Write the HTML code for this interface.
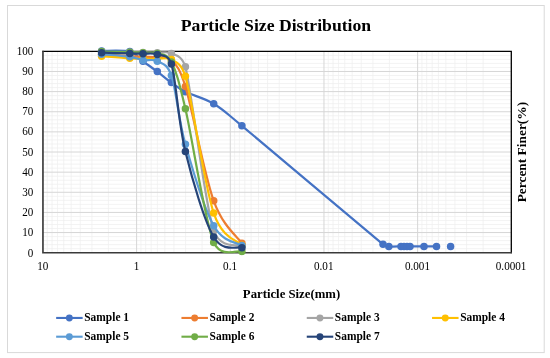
<!DOCTYPE html>
<html><head><meta charset="utf-8"><title>Particle Size Distribution</title>
<style>
html,body{margin:0;padding:0;background:#fff;}
body{width:550px;height:358px;overflow:hidden;}
svg{display:block;will-change:transform;opacity:0.999;}
svg text{font-family:"Liberation Serif",serif;fill:#000;}
</style></head><body>
<svg width="550" height="358" viewBox="0 0 550 358">
<rect x="0" y="0" width="550" height="358" fill="#ffffff"/>
<rect x="7.5" y="5.5" width="536.7" height="347.1" fill="#fff" stroke="#d9d9d9" stroke-width="1"/>
<g shape-rendering="auto">
<line x1="42.95" x2="511.3" y1="248.67" y2="248.67" stroke="#efefef" stroke-width="0.75"/>
<line x1="42.95" x2="511.3" y1="244.65" y2="244.65" stroke="#efefef" stroke-width="0.75"/>
<line x1="42.95" x2="511.3" y1="240.62" y2="240.62" stroke="#efefef" stroke-width="0.75"/>
<line x1="42.95" x2="511.3" y1="236.59" y2="236.59" stroke="#efefef" stroke-width="0.75"/>
<line x1="42.95" x2="511.3" y1="228.54" y2="228.54" stroke="#efefef" stroke-width="0.75"/>
<line x1="42.95" x2="511.3" y1="224.51" y2="224.51" stroke="#efefef" stroke-width="0.75"/>
<line x1="42.95" x2="511.3" y1="220.48" y2="220.48" stroke="#efefef" stroke-width="0.75"/>
<line x1="42.95" x2="511.3" y1="216.46" y2="216.46" stroke="#efefef" stroke-width="0.75"/>
<line x1="42.95" x2="511.3" y1="208.40" y2="208.40" stroke="#efefef" stroke-width="0.75"/>
<line x1="42.95" x2="511.3" y1="204.38" y2="204.38" stroke="#efefef" stroke-width="0.75"/>
<line x1="42.95" x2="511.3" y1="200.35" y2="200.35" stroke="#efefef" stroke-width="0.75"/>
<line x1="42.95" x2="511.3" y1="196.32" y2="196.32" stroke="#efefef" stroke-width="0.75"/>
<line x1="42.95" x2="511.3" y1="188.27" y2="188.27" stroke="#efefef" stroke-width="0.75"/>
<line x1="42.95" x2="511.3" y1="184.24" y2="184.24" stroke="#efefef" stroke-width="0.75"/>
<line x1="42.95" x2="511.3" y1="180.21" y2="180.21" stroke="#efefef" stroke-width="0.75"/>
<line x1="42.95" x2="511.3" y1="176.19" y2="176.19" stroke="#efefef" stroke-width="0.75"/>
<line x1="42.95" x2="511.3" y1="168.13" y2="168.13" stroke="#efefef" stroke-width="0.75"/>
<line x1="42.95" x2="511.3" y1="164.11" y2="164.11" stroke="#efefef" stroke-width="0.75"/>
<line x1="42.95" x2="511.3" y1="160.08" y2="160.08" stroke="#efefef" stroke-width="0.75"/>
<line x1="42.95" x2="511.3" y1="156.05" y2="156.05" stroke="#efefef" stroke-width="0.75"/>
<line x1="42.95" x2="511.3" y1="148.00" y2="148.00" stroke="#efefef" stroke-width="0.75"/>
<line x1="42.95" x2="511.3" y1="143.97" y2="143.97" stroke="#efefef" stroke-width="0.75"/>
<line x1="42.95" x2="511.3" y1="139.94" y2="139.94" stroke="#efefef" stroke-width="0.75"/>
<line x1="42.95" x2="511.3" y1="135.92" y2="135.92" stroke="#efefef" stroke-width="0.75"/>
<line x1="42.95" x2="511.3" y1="127.86" y2="127.86" stroke="#efefef" stroke-width="0.75"/>
<line x1="42.95" x2="511.3" y1="123.84" y2="123.84" stroke="#efefef" stroke-width="0.75"/>
<line x1="42.95" x2="511.3" y1="119.81" y2="119.81" stroke="#efefef" stroke-width="0.75"/>
<line x1="42.95" x2="511.3" y1="115.78" y2="115.78" stroke="#efefef" stroke-width="0.75"/>
<line x1="42.95" x2="511.3" y1="107.73" y2="107.73" stroke="#efefef" stroke-width="0.75"/>
<line x1="42.95" x2="511.3" y1="103.70" y2="103.70" stroke="#efefef" stroke-width="0.75"/>
<line x1="42.95" x2="511.3" y1="99.67" y2="99.67" stroke="#efefef" stroke-width="0.75"/>
<line x1="42.95" x2="511.3" y1="95.65" y2="95.65" stroke="#efefef" stroke-width="0.75"/>
<line x1="42.95" x2="511.3" y1="87.59" y2="87.59" stroke="#efefef" stroke-width="0.75"/>
<line x1="42.95" x2="511.3" y1="83.57" y2="83.57" stroke="#efefef" stroke-width="0.75"/>
<line x1="42.95" x2="511.3" y1="79.54" y2="79.54" stroke="#efefef" stroke-width="0.75"/>
<line x1="42.95" x2="511.3" y1="75.51" y2="75.51" stroke="#efefef" stroke-width="0.75"/>
<line x1="42.95" x2="511.3" y1="67.46" y2="67.46" stroke="#efefef" stroke-width="0.75"/>
<line x1="42.95" x2="511.3" y1="63.43" y2="63.43" stroke="#efefef" stroke-width="0.75"/>
<line x1="42.95" x2="511.3" y1="59.40" y2="59.40" stroke="#efefef" stroke-width="0.75"/>
<line x1="42.95" x2="511.3" y1="55.38" y2="55.38" stroke="#efefef" stroke-width="0.75"/>
<line y1="51.35" y2="252.7" x1="108.42" x2="108.42" stroke="#efefef" stroke-width="0.75"/>
<line y1="51.35" y2="252.7" x1="91.93" x2="91.93" stroke="#efefef" stroke-width="0.75"/>
<line y1="51.35" y2="252.7" x1="80.23" x2="80.23" stroke="#efefef" stroke-width="0.75"/>
<line y1="51.35" y2="252.7" x1="71.15" x2="71.15" stroke="#efefef" stroke-width="0.75"/>
<line y1="51.35" y2="252.7" x1="63.73" x2="63.73" stroke="#efefef" stroke-width="0.75"/>
<line y1="51.35" y2="252.7" x1="57.46" x2="57.46" stroke="#efefef" stroke-width="0.75"/>
<line y1="51.35" y2="252.7" x1="52.03" x2="52.03" stroke="#efefef" stroke-width="0.75"/>
<line y1="51.35" y2="252.7" x1="47.24" x2="47.24" stroke="#efefef" stroke-width="0.75"/>
<line y1="51.35" y2="252.7" x1="202.09" x2="202.09" stroke="#efefef" stroke-width="0.75"/>
<line y1="51.35" y2="252.7" x1="185.60" x2="185.60" stroke="#efefef" stroke-width="0.75"/>
<line y1="51.35" y2="252.7" x1="173.90" x2="173.90" stroke="#efefef" stroke-width="0.75"/>
<line y1="51.35" y2="252.7" x1="164.82" x2="164.82" stroke="#efefef" stroke-width="0.75"/>
<line y1="51.35" y2="252.7" x1="157.40" x2="157.40" stroke="#efefef" stroke-width="0.75"/>
<line y1="51.35" y2="252.7" x1="151.13" x2="151.13" stroke="#efefef" stroke-width="0.75"/>
<line y1="51.35" y2="252.7" x1="145.70" x2="145.70" stroke="#efefef" stroke-width="0.75"/>
<line y1="51.35" y2="252.7" x1="140.91" x2="140.91" stroke="#efefef" stroke-width="0.75"/>
<line y1="51.35" y2="252.7" x1="295.76" x2="295.76" stroke="#efefef" stroke-width="0.75"/>
<line y1="51.35" y2="252.7" x1="279.27" x2="279.27" stroke="#efefef" stroke-width="0.75"/>
<line y1="51.35" y2="252.7" x1="267.57" x2="267.57" stroke="#efefef" stroke-width="0.75"/>
<line y1="51.35" y2="252.7" x1="258.49" x2="258.49" stroke="#efefef" stroke-width="0.75"/>
<line y1="51.35" y2="252.7" x1="251.07" x2="251.07" stroke="#efefef" stroke-width="0.75"/>
<line y1="51.35" y2="252.7" x1="244.80" x2="244.80" stroke="#efefef" stroke-width="0.75"/>
<line y1="51.35" y2="252.7" x1="239.37" x2="239.37" stroke="#efefef" stroke-width="0.75"/>
<line y1="51.35" y2="252.7" x1="234.58" x2="234.58" stroke="#efefef" stroke-width="0.75"/>
<line y1="51.35" y2="252.7" x1="389.43" x2="389.43" stroke="#efefef" stroke-width="0.75"/>
<line y1="51.35" y2="252.7" x1="372.94" x2="372.94" stroke="#efefef" stroke-width="0.75"/>
<line y1="51.35" y2="252.7" x1="361.24" x2="361.24" stroke="#efefef" stroke-width="0.75"/>
<line y1="51.35" y2="252.7" x1="352.16" x2="352.16" stroke="#efefef" stroke-width="0.75"/>
<line y1="51.35" y2="252.7" x1="344.74" x2="344.74" stroke="#efefef" stroke-width="0.75"/>
<line y1="51.35" y2="252.7" x1="338.47" x2="338.47" stroke="#efefef" stroke-width="0.75"/>
<line y1="51.35" y2="252.7" x1="333.04" x2="333.04" stroke="#efefef" stroke-width="0.75"/>
<line y1="51.35" y2="252.7" x1="328.25" x2="328.25" stroke="#efefef" stroke-width="0.75"/>
<line y1="51.35" y2="252.7" x1="483.10" x2="483.10" stroke="#efefef" stroke-width="0.75"/>
<line y1="51.35" y2="252.7" x1="466.61" x2="466.61" stroke="#efefef" stroke-width="0.75"/>
<line y1="51.35" y2="252.7" x1="454.91" x2="454.91" stroke="#efefef" stroke-width="0.75"/>
<line y1="51.35" y2="252.7" x1="445.83" x2="445.83" stroke="#efefef" stroke-width="0.75"/>
<line y1="51.35" y2="252.7" x1="438.41" x2="438.41" stroke="#efefef" stroke-width="0.75"/>
<line y1="51.35" y2="252.7" x1="432.14" x2="432.14" stroke="#efefef" stroke-width="0.75"/>
<line y1="51.35" y2="252.7" x1="426.71" x2="426.71" stroke="#efefef" stroke-width="0.75"/>
<line y1="51.35" y2="252.7" x1="421.92" x2="421.92" stroke="#efefef" stroke-width="0.75"/>
<line x1="42.95" x2="511.3" y1="232.56" y2="232.56" stroke="#d6d6d6" stroke-width="1"/>
<line x1="42.95" x2="511.3" y1="212.43" y2="212.43" stroke="#d6d6d6" stroke-width="1"/>
<line x1="42.95" x2="511.3" y1="192.29" y2="192.29" stroke="#d6d6d6" stroke-width="1"/>
<line x1="42.95" x2="511.3" y1="172.16" y2="172.16" stroke="#d6d6d6" stroke-width="1"/>
<line x1="42.95" x2="511.3" y1="152.02" y2="152.02" stroke="#d6d6d6" stroke-width="1"/>
<line x1="42.95" x2="511.3" y1="131.89" y2="131.89" stroke="#d6d6d6" stroke-width="1"/>
<line x1="42.95" x2="511.3" y1="111.75" y2="111.75" stroke="#d6d6d6" stroke-width="1"/>
<line x1="42.95" x2="511.3" y1="91.62" y2="91.62" stroke="#d6d6d6" stroke-width="1"/>
<line x1="42.95" x2="511.3" y1="71.48" y2="71.48" stroke="#d6d6d6" stroke-width="1"/>
<line y1="51.35" y2="252.7" x1="136.62" x2="136.62" stroke="#d6d6d6" stroke-width="1"/>
<line y1="51.35" y2="252.7" x1="230.29" x2="230.29" stroke="#d6d6d6" stroke-width="1"/>
<line y1="51.35" y2="252.7" x1="323.96" x2="323.96" stroke="#d6d6d6" stroke-width="1"/>
<line y1="51.35" y2="252.7" x1="417.63" x2="417.63" stroke="#d6d6d6" stroke-width="1"/>
</g>
<path d="M42.35,51.35H511.3V253.29999999999998" fill="none" stroke="#000" stroke-width="1.3"/>
<path d="M42.95,50.75V252.75H511.90000000000003" fill="none" stroke="#3a3a3a" stroke-width="1.65"/>
<g>
<path d="M101.60,50.90C106.30,51.02 122.90,49.87 129.80,51.60C136.70,53.33 138.42,57.97 143.00,61.30C147.58,64.63 152.57,68.05 157.30,71.60C162.03,75.15 166.72,79.23 171.40,82.60C176.08,85.97 178.35,88.28 185.40,91.80C192.45,95.32 204.28,98.03 213.70,103.70C223.12,109.37 223.48,110.60 241.90,125.80C270.12,149.23 358.52,224.20 383.00,244.30C386.33,246.63 385.80,246.05 388.80,246.40C391.80,246.75 398.47,246.40 401.00,246.40C403.00,246.40 403.00,246.40 404.00,246.40C405.00,246.40 406.00,246.40 407.00,246.40C408.00,246.40 408.00,246.40 410.00,246.40C412.83,246.40 419.58,246.40 424.00,246.40C428.42,246.40 434.42,246.40 436.50,246.40" fill="none" stroke="#4472C4" stroke-width="2.2" stroke-linecap="round" stroke-linejoin="round"/>
<circle cx="101.60" cy="50.90" r="3.75" fill="#4472C4"/>
<circle cx="129.80" cy="51.60" r="3.75" fill="#4472C4"/>
<circle cx="143.00" cy="61.30" r="3.75" fill="#4472C4"/>
<circle cx="157.30" cy="71.60" r="3.75" fill="#4472C4"/>
<circle cx="171.40" cy="82.60" r="3.75" fill="#4472C4"/>
<circle cx="185.40" cy="91.80" r="3.75" fill="#4472C4"/>
<circle cx="213.70" cy="103.70" r="3.75" fill="#4472C4"/>
<circle cx="241.90" cy="125.80" r="3.75" fill="#4472C4"/>
<circle cx="383.00" cy="244.30" r="3.75" fill="#4472C4"/>
<circle cx="388.80" cy="246.40" r="3.75" fill="#4472C4"/>
<circle cx="401.00" cy="246.40" r="3.75" fill="#4472C4"/>
<circle cx="404.00" cy="246.40" r="3.75" fill="#4472C4"/>
<circle cx="407.00" cy="246.40" r="3.75" fill="#4472C4"/>
<circle cx="410.00" cy="246.40" r="3.75" fill="#4472C4"/>
<circle cx="424.00" cy="246.40" r="3.75" fill="#4472C4"/>
<circle cx="436.50" cy="246.40" r="3.75" fill="#4472C4"/>
<circle cx="450.60" cy="246.40" r="3.75" fill="#4472C4"/>
<path d="M101.60,54.50C106.30,54.78 122.90,55.82 129.80,56.20C136.70,56.58 138.42,56.58 143.00,56.80C147.58,57.02 152.57,56.97 157.30,57.50C162.03,58.03 166.72,55.17 171.40,60.00C176.08,64.83 179.47,67.54 185.40,86.50C192.45,109.97 204.28,174.68 213.70,200.80C223.12,226.92 237.20,236.13 241.90,243.20" fill="none" stroke="#ED7D31" stroke-width="2.2" stroke-linecap="round" stroke-linejoin="round"/>
<circle cx="101.60" cy="54.50" r="3.75" fill="#ED7D31"/>
<circle cx="129.80" cy="56.20" r="3.75" fill="#ED7D31"/>
<circle cx="143.00" cy="56.80" r="3.75" fill="#ED7D31"/>
<circle cx="157.30" cy="57.50" r="3.75" fill="#ED7D31"/>
<circle cx="171.40" cy="60.00" r="3.75" fill="#ED7D31"/>
<circle cx="185.40" cy="86.50" r="3.75" fill="#ED7D31"/>
<circle cx="213.70" cy="200.80" r="3.75" fill="#ED7D31"/>
<circle cx="241.90" cy="243.20" r="3.75" fill="#ED7D31"/>
<path d="M101.60,52.00C106.30,52.03 122.90,52.13 129.80,52.20C136.70,52.27 138.42,52.32 143.00,52.40C147.58,52.48 152.57,52.53 157.30,52.70C162.03,52.87 166.72,51.05 171.40,53.40C176.08,55.75 181.42,55.02 185.40,66.80C192.45,96.42 204.28,201.20 213.70,231.10C221.11,249.38 237.20,243.68 241.90,246.20" fill="none" stroke="#A5A5A5" stroke-width="2.2" stroke-linecap="round" stroke-linejoin="round"/>
<circle cx="101.60" cy="52.00" r="3.75" fill="#A5A5A5"/>
<circle cx="129.80" cy="52.20" r="3.75" fill="#A5A5A5"/>
<circle cx="143.00" cy="52.40" r="3.75" fill="#A5A5A5"/>
<circle cx="157.30" cy="52.70" r="3.75" fill="#A5A5A5"/>
<circle cx="171.40" cy="53.40" r="3.75" fill="#A5A5A5"/>
<circle cx="185.40" cy="66.80" r="3.75" fill="#A5A5A5"/>
<circle cx="213.70" cy="231.10" r="3.75" fill="#A5A5A5"/>
<circle cx="241.90" cy="246.20" r="3.75" fill="#A5A5A5"/>
<path d="M101.60,56.20C106.30,56.55 122.90,57.88 129.80,58.30C136.70,58.72 138.42,58.60 143.00,58.70C147.58,58.80 152.57,58.77 157.30,58.90C162.03,59.03 166.72,56.60 171.40,59.50C176.08,62.40 180.85,62.79 185.40,76.30C192.45,101.90 204.28,184.95 213.70,213.10C222.73,239.37 237.20,239.85 241.90,245.20" fill="none" stroke="#FFC000" stroke-width="2.2" stroke-linecap="round" stroke-linejoin="round"/>
<circle cx="101.60" cy="56.20" r="3.75" fill="#FFC000"/>
<circle cx="129.80" cy="58.30" r="3.75" fill="#FFC000"/>
<circle cx="143.00" cy="58.70" r="3.75" fill="#FFC000"/>
<circle cx="157.30" cy="58.90" r="3.75" fill="#FFC000"/>
<circle cx="171.40" cy="59.50" r="3.75" fill="#FFC000"/>
<circle cx="185.40" cy="76.30" r="3.75" fill="#FFC000"/>
<circle cx="213.70" cy="213.10" r="3.75" fill="#FFC000"/>
<circle cx="241.90" cy="245.20" r="3.75" fill="#FFC000"/>
<path d="M101.60,54.30C106.30,54.72 122.90,55.82 129.80,56.80C136.70,57.78 138.42,59.47 143.00,60.20C147.58,60.93 152.57,58.65 157.30,61.20C162.03,63.75 167.05,63.28 171.40,75.50C176.08,89.35 178.35,119.25 185.40,144.30C192.45,169.35 204.28,208.92 213.70,225.80C223.12,242.68 237.20,242.30 241.90,245.60" fill="none" stroke="#5B9BD5" stroke-width="2.2" stroke-linecap="round" stroke-linejoin="round"/>
<circle cx="101.60" cy="54.30" r="3.75" fill="#5B9BD5"/>
<circle cx="129.80" cy="56.80" r="3.75" fill="#5B9BD5"/>
<circle cx="143.00" cy="60.20" r="3.75" fill="#5B9BD5"/>
<circle cx="157.30" cy="61.20" r="3.75" fill="#5B9BD5"/>
<circle cx="171.40" cy="75.50" r="3.75" fill="#5B9BD5"/>
<circle cx="185.40" cy="144.30" r="3.75" fill="#5B9BD5"/>
<circle cx="213.70" cy="225.80" r="3.75" fill="#5B9BD5"/>
<circle cx="241.90" cy="245.60" r="3.75" fill="#5B9BD5"/>
<path d="M101.60,51.50C106.30,51.62 122.90,51.98 129.80,52.20C136.70,52.42 138.42,52.58 143.00,52.80C147.58,53.02 152.57,51.97 157.30,53.50C162.03,55.03 166.72,52.78 171.40,62.00C176.08,71.22 178.35,78.73 185.40,108.80C192.45,138.87 204.28,218.63 213.70,242.40C221.47,258.38 237.20,249.90 241.90,251.40" fill="none" stroke="#70AD47" stroke-width="2.2" stroke-linecap="round" stroke-linejoin="round"/>
<circle cx="101.60" cy="51.50" r="3.75" fill="#70AD47"/>
<circle cx="129.80" cy="52.20" r="3.75" fill="#70AD47"/>
<circle cx="143.00" cy="52.80" r="3.75" fill="#70AD47"/>
<circle cx="157.30" cy="53.50" r="3.75" fill="#70AD47"/>
<circle cx="171.40" cy="62.00" r="3.75" fill="#70AD47"/>
<circle cx="185.40" cy="108.80" r="3.75" fill="#70AD47"/>
<circle cx="213.70" cy="242.40" r="3.75" fill="#70AD47"/>
<circle cx="241.90" cy="251.40" r="3.75" fill="#70AD47"/>
<path d="M101.60,52.70C106.30,52.82 122.90,53.23 129.80,53.40C136.70,53.57 138.42,53.53 143.00,53.70C147.58,53.87 152.57,52.70 157.30,54.40C162.03,56.10 167.71,53.92 171.40,63.90C176.08,80.07 178.35,122.55 185.40,151.40C192.45,180.25 204.28,220.95 213.70,237.00C223.12,253.05 237.20,245.92 241.90,247.70" fill="none" stroke="#264478" stroke-width="2.2" stroke-linecap="round" stroke-linejoin="round"/>
<circle cx="101.60" cy="52.70" r="3.75" fill="#264478"/>
<circle cx="129.80" cy="53.40" r="3.75" fill="#264478"/>
<circle cx="143.00" cy="53.70" r="3.75" fill="#264478"/>
<circle cx="157.30" cy="54.40" r="3.75" fill="#264478"/>
<circle cx="171.40" cy="63.90" r="3.75" fill="#264478"/>
<circle cx="185.40" cy="151.40" r="3.75" fill="#264478"/>
<circle cx="213.70" cy="237.00" r="3.75" fill="#264478"/>
<circle cx="241.90" cy="247.70" r="3.75" fill="#264478"/>
</g>
<g>
<text transform="translate(33.4,256.50) scale(0.925,1)" text-anchor="end" font-size="12">0</text>
<text transform="translate(33.4,236.31) scale(0.925,1)" text-anchor="end" font-size="12">10</text>
<text transform="translate(33.4,216.13) scale(0.925,1)" text-anchor="end" font-size="12">20</text>
<text transform="translate(33.4,195.94) scale(0.925,1)" text-anchor="end" font-size="12">30</text>
<text transform="translate(33.4,175.76) scale(0.925,1)" text-anchor="end" font-size="12">40</text>
<text transform="translate(33.4,155.57) scale(0.925,1)" text-anchor="end" font-size="12">50</text>
<text transform="translate(33.4,135.39) scale(0.925,1)" text-anchor="end" font-size="12">60</text>
<text transform="translate(33.4,115.20) scale(0.925,1)" text-anchor="end" font-size="12">70</text>
<text transform="translate(33.4,95.02) scale(0.925,1)" text-anchor="end" font-size="12">80</text>
<text transform="translate(33.4,74.83) scale(0.925,1)" text-anchor="end" font-size="12">90</text>
<text transform="translate(33.4,54.65) scale(0.925,1)" text-anchor="end" font-size="12">100</text>
<text transform="translate(42.75,270.4) scale(0.93,1)" text-anchor="middle" font-size="12">10</text>
<text transform="translate(136.42,270.4) scale(0.93,1)" text-anchor="middle" font-size="12">1</text>
<text transform="translate(230.09,270.4) scale(0.93,1)" text-anchor="middle" font-size="12">0.1</text>
<text transform="translate(323.76,270.4) scale(0.93,1)" text-anchor="middle" font-size="12">0.01</text>
<text transform="translate(417.43,270.4) scale(0.93,1)" text-anchor="middle" font-size="12">0.001</text>
<text transform="translate(511.10,270.4) scale(0.93,1)" text-anchor="middle" font-size="12">0.0001</text>
</g>
<text x="276.0" y="31.2" text-anchor="middle" font-size="17.4" font-weight="bold" textLength="190.4" lengthAdjust="spacingAndGlyphs">Particle Size Distribution</text>
<text x="291.5" y="297.7" text-anchor="middle" font-size="13.3" font-weight="bold" textLength="97.3" lengthAdjust="spacingAndGlyphs">Particle Size(mm)</text>
<text transform="translate(526,152.1) rotate(-90)" text-anchor="middle" font-size="13.4" font-weight="bold">Percent Finer(%)</text>
<g>
<line x1="56.15" x2="82.65" y1="317.95" y2="317.95" stroke="#4472C4" stroke-width="2.1"/>
<circle cx="69.35" cy="317.95" r="3.45" fill="#4472C4"/>
<text x="84.25" y="321.30" font-size="11.5" font-weight="bold" textLength="44.8" lengthAdjust="spacingAndGlyphs">Sample 1</text>
<line x1="181.45" x2="207.95" y1="317.95" y2="317.95" stroke="#ED7D31" stroke-width="2.1"/>
<circle cx="194.65" cy="317.95" r="3.45" fill="#ED7D31"/>
<text x="209.55" y="321.30" font-size="11.5" font-weight="bold" textLength="44.8" lengthAdjust="spacingAndGlyphs">Sample 2</text>
<line x1="306.75" x2="333.25" y1="317.95" y2="317.95" stroke="#A5A5A5" stroke-width="2.1"/>
<circle cx="319.95" cy="317.95" r="3.45" fill="#A5A5A5"/>
<text x="334.85" y="321.30" font-size="11.5" font-weight="bold" textLength="44.8" lengthAdjust="spacingAndGlyphs">Sample 3</text>
<line x1="432.05" x2="458.55" y1="317.95" y2="317.95" stroke="#FFC000" stroke-width="2.1"/>
<circle cx="445.25" cy="317.95" r="3.45" fill="#FFC000"/>
<text x="460.15" y="321.30" font-size="11.5" font-weight="bold" textLength="44.8" lengthAdjust="spacingAndGlyphs">Sample 4</text>
<line x1="56.15" x2="82.65" y1="336.70" y2="336.70" stroke="#5B9BD5" stroke-width="2.1"/>
<circle cx="69.35" cy="336.70" r="3.45" fill="#5B9BD5"/>
<text x="84.25" y="340.05" font-size="11.5" font-weight="bold" textLength="44.8" lengthAdjust="spacingAndGlyphs">Sample 5</text>
<line x1="181.45" x2="207.95" y1="336.70" y2="336.70" stroke="#70AD47" stroke-width="2.1"/>
<circle cx="194.65" cy="336.70" r="3.45" fill="#70AD47"/>
<text x="209.55" y="340.05" font-size="11.5" font-weight="bold" textLength="44.8" lengthAdjust="spacingAndGlyphs">Sample 6</text>
<line x1="306.75" x2="333.25" y1="336.70" y2="336.70" stroke="#264478" stroke-width="2.1"/>
<circle cx="319.95" cy="336.70" r="3.45" fill="#264478"/>
<text x="334.85" y="340.05" font-size="11.5" font-weight="bold" textLength="44.8" lengthAdjust="spacingAndGlyphs">Sample 7</text>
</g>
</svg>
</body></html>
